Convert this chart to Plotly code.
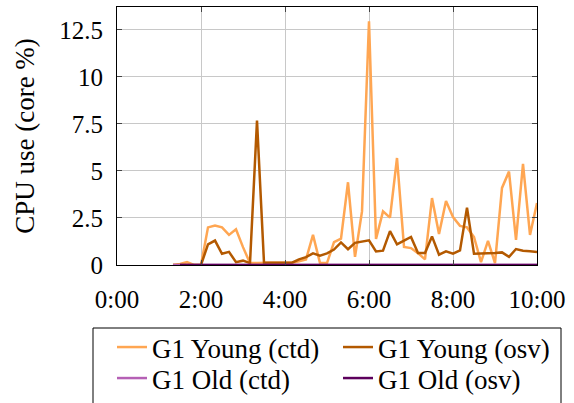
import plotly.graph_objects as go

# time in seconds (10 s samples from 1:20 to 10:00)
time_s = [80, 90, 100, 110, 120, 130, 140, 150, 160, 170,
          180, 190, 200, 210, 220, 230, 240, 250, 260, 270,
          280, 290, 300, 310, 320, 330, 340, 350, 360, 370,
          380, 390, 400, 410, 420, 430, 440, 450, 460, 470,
          480, 490, 500, 510, 520, 530, 540, 550, 560, 570,
          580, 590, 600]

young_ctd = [0, 0.05, 0.15, 0, 0, 2.0, 2.1, 2.0, 1.6, 1.9,
             0.95, 0.1, 0.1, 0.12, 0.12, 0.12, 0.12, 0.12, 0.2, 0.3,
             1.6, 0.1, 0.1, 1.22, 1.4, 4.4, 0.43, 2.85, 12.96, 1.38,
             2.85, 2.52, 5.69, 0.96, 0.9, 0.63, 0.3, 3.56, 1.65, 3.4,
             2.55, 2.08, 2.0, 1.49, 0.15, 1.28, 0.1, 4.1, 4.97, 1.34,
             5.38, 1.6, 3.3]

young_osv = [0, 0, 0, 0, 0, 1.1, 1.3, 0.6, 0.7, 0.15,
             0.23, 0.1, 7.68, 0.12, 0.12, 0.12, 0.12, 0.12, 0.3, 0.42,
             0.62, 0.5, 0.62, 0.82, 1.2, 0.84, 1.18, 1.25, 1.31, 0.72,
             0.76, 1.8, 1.1, 1.3, 1.49, 0.64, 0.64, 1.52, 0.55, 0.73,
             0.6, 0.78, 3.05, 0.6, 0.6, 0.6, 0.64, 0.67, 0.43, 0.85,
             0.76, 0.73, 0.69]

old_ctd = [0] * 53
old_osv = [0] * 53

tick_vals_min = [0, 2, 4, 6, 8, 10]
tick_text = ["0:00", "2:00", "4:00", "6:00", "8:00", "10:00"]
y_ticks = [0, 2.5, 5, 7.5, 10, 12.5]
y_text = ["0", "2.5", "5", "7.5", "10", "12.5"]

t_min = [s / 60 for s in time_s]

FONT = "Liberation Serif"
W, H = 574, 403
L, R, T, B = 117, 37, 7, 138
PW, PH = W - L - R, H - T - B
fig = go.Figure()
series = [
    ("G1 Young (ctd)", young_ctd, "#FFA652", t_min, "legend"),
    ("G1 Young (osv)", young_osv, "#B35900", t_min, "legend"),
    ("G1 Old (ctd)", old_ctd, "#B560B5", t_min, "legend2"),
    ("G1 Old (osv)", old_osv[1:], "#5C005C", t_min[1:], "legend2"),
]
for name, ys, col, xs, lg in series:
    fig.add_trace(go.Scatter(x=xs, y=ys, mode="lines", name=name,
                             legend=lg,
                             line=dict(color=col, width=2.5)))

axis_common = dict(showline=True, linecolor="black", linewidth=1,
                   mirror="ticks", ticks="inside", ticklen=5,
                   tickcolor="#444", showgrid=True, gridcolor="#c8c8c8",
                   gridwidth=1, zeroline=False,
                   tickfont=dict(family=FONT, size=25, color="black"))

fig.update_xaxes(range=[0, 10], tickvals=tick_vals_min, ticktext=tick_text,
                 ticklabelstandoff=12, **axis_common)
fig.update_yaxes(range=[0, 13.72], tickvals=y_ticks, ticktext=y_text,
                 ticklabelstandoff=8,
                 title=dict(text="CPU use (core %)", standoff=16,
                            font=dict(family=FONT, size=27, color="black")),
                 **axis_common)

leg_common = dict(orientation="h", xanchor="left", yanchor="top",
                  borderwidth=0, entrywidth=181, entrywidthmode="pixels",
                  bgcolor="rgba(0,0,0,0)",
                  font=dict(family=FONT, size=27, color="black"))


def px_x(p):
    return (p - L) / PW


def px_y(p):
    return (H - B - p) / PH


fig.update_layout(
    width=W, height=H,
    margin=dict(l=L, r=R, t=T, b=B, autoexpand=False),
    paper_bgcolor="white", plot_bgcolor="white",
    font=dict(family=FONT, size=25, color="black"),
    showlegend=True,
    legend=dict(x=px_x(112), y=px_y(323), **leg_common),
    legend2=dict(x=px_x(112), y=px_y(354), **leg_common),
    shapes=[dict(type="rect", xref="paper", yref="paper",
                 x0=px_x(93), x1=px_x(561), y0=px_y(328), y1=px_y(412),
                 line=dict(color="black", width=1), fillcolor="rgba(0,0,0,0)",
                 layer="above")],
)

fig.write_html("out.html")
